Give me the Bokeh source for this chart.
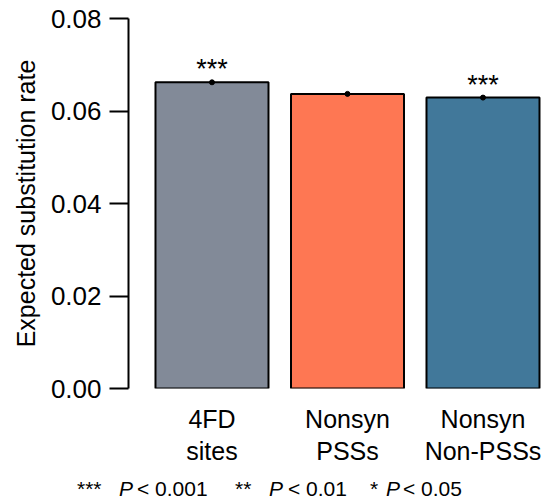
from bokeh.plotting import figure
from bokeh.layouts import column
from bokeh.models import Range1d, FixedTicker, PrintfTickFormatter, Div
from bokeh.core.properties import value
from bokeh.embed import file_html
from bokeh.resources import INLINE

categories = ["4FD\nsites", "Nonsyn\nPSSs", "Nonsyn\nNon-PSSs"]
values = [0.0662, 0.0637, 0.0629]
errors = [0.0002, 0.0003, 0.0002]
stars = ["***", "", "***"]
colors = ["#828A98", "#FE7753", "#41789A"]
y_ticks = [0.0, 0.02, 0.04, 0.06, 0.08]
footnote = [("***", "star"), ("P", "italic"), ("&lt; 0.001", "normal"),
            ("**", "star"), ("P", "italic"), ("&lt; 0.01", "normal"),
            ("*", "star"), ("P", "italic"), ("&lt; 0.05", "normal")]

FONT = "Liberation Sans"
xs = [1, 2, 3]
PPU_X = 135.5
X0 = 0.3838

p = figure(width=547, height=470, output_backend="svg", toolbar_location=None,
           x_range=Range1d(X0, X0 + 417 / PPU_X), y_range=Range1d(0, 0.08),
           min_border_left=128, min_border_right=2, min_border_top=18,
           min_border_bottom=82)
p.outline_line_color = None
p.xgrid.visible = False
p.ygrid.visible = False
p.background_fill_color = "white"
p.border_fill_color = "white"

p.vbar(x=xs, top=values, bottom=0, width=0.834, fill_color=colors,
       line_color="black", line_width=2)

lo = [v - e for v, e in zip(values, errors)]
hi = [v + e for v, e in zip(values, errors)]
p.segment(x0=xs, y0=lo, x1=xs, y1=hi, line_color="black", line_width=3)
p.scatter(x=xs, y=values, size=5, color="black")

sx = [x for x, s in zip(xs, stars) if s]
sy = [v + 0.0028 for v, s in zip(values, stars) if s]
st = [s for s in stars if s]
p.text(x=sx, y=sy, text=st, text_align="center", text_baseline="middle",
       text_font=value(FONT), text_font_size="27px", text_color="black")

# y axis
ya = p.yaxis[0]
ya.ticker = FixedTicker(ticks=y_ticks)
ya.formatter = PrintfTickFormatter(format="%.2f")
ya.minor_tick_line_color = None
ya.major_tick_in = 0
ya.major_tick_out = 19
ya.major_tick_line_width = 2
ya.axis_line_width = 2
ya.major_label_standoff = 8
ya.major_label_text_font = FONT
ya.major_label_text_font_size = "26px"
ya.major_label_text_color = "black"
ya.axis_label = "Expected substitution rate"
ya.axis_label_text_font = FONT
ya.axis_label_text_font_size = "25px"
ya.axis_label_text_font_style = "normal"
ya.axis_label_text_color = "black"
ya.axis_label_standoff = 8

# x axis (category labels)
xa = p.xaxis[0]
xa.ticker = FixedTicker(ticks=xs)
xa.major_label_overrides = {x: c for x, c in zip(xs, categories)}
xa.axis_line_color = None
xa.major_tick_line_color = None
xa.minor_tick_line_color = None
xa.major_label_standoff = 10
xa.major_label_text_font = FONT
xa.major_label_text_font_size = "25px"
xa.major_label_text_line_height = 1.15
xa.major_label_text_color = "black"

# footnote
foot_px = [77, 119, 137, 235, 269, 288, 370, 386, 403]
spans = []
for px, (t, kind) in zip(foot_px, footnote):
    style = "font-style:italic;" if kind == "italic" else ""
    spans.append(
        f'<span style="position:absolute;left:{px}px;top:8px;'
        f'line-height:22px;white-space:nowrap;{style}">{t}</span>')
html = ('<div style="position:relative;width:547px;height:31px;'
        f"font-family:'{FONT}';font-size:21px;color:black;\">"
        + "".join(spans) + "</div>")
foot = Div(text=html, width=547, height=31, margin=0)

layout = column(p, foot, spacing=0)
open("out.html", "w").write(file_html(layout, INLINE))
